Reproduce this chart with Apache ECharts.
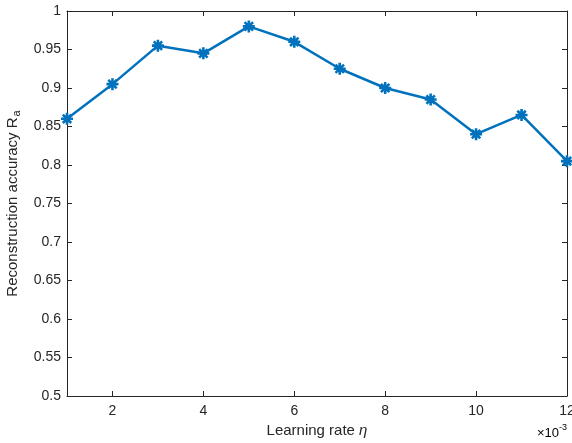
<!DOCTYPE html>
<html><head><meta charset="utf-8">
<script src="https://cdn.jsdelivr.net/npm/echarts@6/dist/echarts.min.js"></script>
<style>html,body{margin:0;padding:0;background:#fff}#c{width:572px;height:443px}</style>
</head><body><div id="c"></div>
<script>
const learningRate = [1,2,3,4,5,6,7,8,9,10,11,12];
const accuracy = [0.86,0.905,0.955,0.945,0.98,0.96,0.925,0.90,0.885,0.84,0.865,0.805];
const xTickValues = [2,4,6,8,10,12];
const yTickLabels = ['0.5','0.55','0.6','0.65','0.7','0.75','0.8','0.85','0.9','0.95','1'];

const axisColor = '#262626';
const font = 'Liberation Sans, Arial, Helvetica, sans-serif';
const chart = echarts.init(document.getElementById('c'), null, {renderer:'canvas'});
const star = 'path://M0 10L20 10M10 0L10 20M3 3L17 17M17 3L3 17';
const yTicks = yTickLabels.map(Number);
chart.setOption({
  animation:false,
  grid:{left:67,right:5,top:11,bottom:47,containLabel:false,outerBoundsMode:'none'},
  xAxis:[{
    type:'value',min:1,max:12,
    axisLine:{show:true,lineStyle:{color:axisColor,width:1}},
    axisTick:{show:true,inside:true,length:5,customValues:xTickValues,lineStyle:{color:axisColor}},
    axisLabel:{customValues:xTickValues,color:axisColor,fontFamily:font,fontSize:14,margin:8},
    splitLine:{show:false},
    name:'{n|Learning rate }{i|η}',nameLocation:'middle',nameGap:26,
    nameTextStyle:{rich:{n:{fontFamily:font,fontSize:15,color:axisColor},i:{fontFamily:font,fontSize:15,fontStyle:'italic',color:axisColor}}}
  },{
    type:'value',min:1,max:12,position:'top',
    axisLine:{show:true,lineStyle:{color:axisColor,width:1}},
    axisTick:{show:true,inside:true,length:5,customValues:xTickValues,lineStyle:{color:axisColor}},
    axisLabel:{show:false},splitLine:{show:false}
  }],
  yAxis:[{
    type:'value',min:0.5,max:1,interval:0.05,
    axisLine:{show:true,lineStyle:{color:axisColor,width:1}},
    axisTick:{show:true,inside:true,length:5,lineStyle:{color:axisColor}},
    axisLabel:{color:axisColor,fontFamily:font,fontSize:14,margin:6,
      formatter:function(v){const i=yTicks.findIndex(t=>Math.abs(t-v)<1e-9);return i>=0?yTickLabels[i]:'';}},
    splitLine:{show:false},
    name:'{n|Reconstruction accuracy R}{s|a}',nameLocation:'middle',nameGap:41,
    nameTextStyle:{rich:{n:{fontFamily:font,fontSize:15,color:axisColor,lineHeight:20},s:{fontFamily:font,fontSize:11,color:axisColor,verticalAlign:'bottom',lineHeight:20,padding:[8,0,0,1]}}}
  },{
    type:'value',min:0.5,max:1,interval:0.05,position:'right',
    axisLine:{show:true,lineStyle:{color:axisColor,width:1}},
    axisTick:{show:true,inside:true,length:5,lineStyle:{color:axisColor}},
    axisLabel:{show:false},splitLine:{show:false}
  }],
  graphic:[{
    type:'text',right:5,top:421,
    style:{text:'{a|×10}{b|-3}',rich:{a:{fontFamily:font,fontSize:13,color:axisColor,lineHeight:18,padding:[6,0,0,0]},b:{fontFamily:font,fontSize:9,color:axisColor,lineHeight:18,padding:[0,0,6,0]}}}
  }],
  series:[{
    type:'line',
    data:learningRate.map((x,i)=>[x,accuracy[i]]),
    xAxisIndex:0,yAxisIndex:0,
    symbol:star,symbolSize:12,showAllSymbol:true,
    lineStyle:{color:'#0072BD',width:2.5},
    itemStyle:{color:'#0072BD',borderColor:'#0072BD',borderWidth:2.6},
    clip:false
  }]
});
</script></body></html>
